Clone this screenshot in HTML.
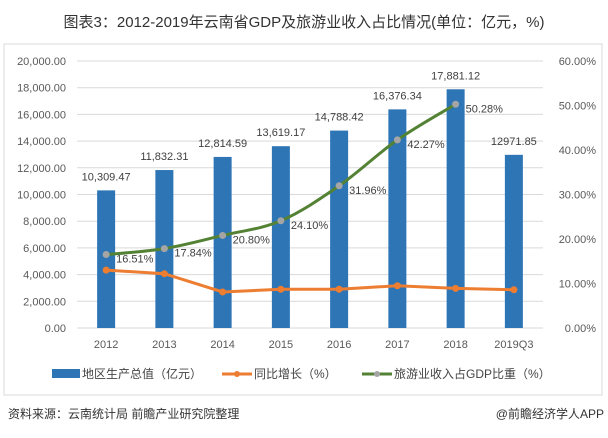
<!DOCTYPE html>
<html><head><meta charset="utf-8"><style>
body{margin:0;background:#fff;font-family:"Liberation Sans","Noto Sans CJK SC",sans-serif;}
#wrap{position:relative;width:608px;height:438px;overflow:hidden;background:#fff}
</style></head><body>
<div id="wrap">
<svg id="svg" width="608" height="438" xmlns="http://www.w3.org/2000/svg" style="position:absolute;left:0;top:0;font-family:'Liberation Sans','Noto Sans CJK SC',sans-serif">
<text x="304" y="27" text-anchor="middle" font-size="15" fill="#333">图表3：2012-2019年云南省GDP及旅游业收入占比情况(单位：亿元，%)</text>
<rect x="4" y="44" width="598" height="351" fill="none" stroke="#d9d9d9"/>
<g id="grid"></g><g id="bars"></g><g id="lines"></g><g id="labels"></g>
<g>
<rect x="52" y="369" width="28" height="9" fill="#2e75b6"/>
<text x="82" y="378" font-size="12" fill="#444">地区生产总值（亿元）</text>
<line x1="222" y1="374" x2="252" y2="374" stroke="#ed7d31" stroke-width="3"/>
<circle cx="237" cy="374" r="3" fill="#ed7d31"/>
<text x="254" y="378" font-size="12" fill="#444">同比增长（%）</text>
<line x1="362" y1="374" x2="392" y2="374" stroke="#548235" stroke-width="3"/>
<circle cx="377" cy="374" r="3" fill="#a5a5a5"/>
<text x="394" y="378" font-size="12" fill="#444">旅游业收入占GDP比重（%）</text>
</g>
<text x="8" y="418" font-size="12" fill="#333">资料来源：云南统计局 前瞻产业研究院整理</text>
<text x="604" y="418" font-size="12" fill="#333" text-anchor="end">@前瞻经济学人APP</text>
</svg>
</div>
<script>
const categories=["2012","2013","2014","2015","2016","2017","2018","2019Q3"];
const gdp=[10309.47,11832.31,12814.59,13619.17,14788.42,16376.34,17881.12,12971.85];
const growth=[13.0,12.2,8.1,8.7,8.7,9.5,8.9,8.6];
const share=[16.51,17.84,20.80,24.10,31.96,42.27,50.28];
const leftTicks=[0,2000,4000,6000,8000,10000,12000,14000,16000,18000,20000];
const rightTicks=[0,10,20,30,40,50,60];
const NS="http://www.w3.org/2000/svg";
const x0=77,x1=543,yTop=61,yBot=328;
const bw=(x1-x0)/categories.length;
const xc=i=>x0+(i+0.5)*bw;
const yL=v=>yBot-v/20000*(yBot-yTop);
const yR=v=>yBot-v/60*(yBot-yTop);
function mk(tag,attrs,parent,txt){const e=document.createElementNS(NS,tag);for(const k in attrs)e.setAttribute(k,attrs[k]);if(txt!==undefined)e.textContent=txt;document.getElementById(parent).appendChild(e);return e;}
const fmt=v=>v.toLocaleString('en-US',{minimumFractionDigits:2,maximumFractionDigits:2});
leftTicks.forEach(t=>{
 const l=mk('line',{x1:x0,x2:x1,y1:yL(t),y2:yL(t),stroke:'#d9d9d9'},'grid');
 
 
 const tx=mk('text',{x:66,y:yL(t)+4,'text-anchor':'end','font-size':11,fill:'#595959'},'grid',fmt(t));
 
 
});
rightTicks.forEach(t=>{
 const tx=mk('text',{x:596,y:yR(t)+4,'text-anchor':'end','font-size':11,fill:'#595959'},'grid',t.toFixed(2)+'%');
 
 
});
categories.forEach((c,i)=>{
 const tx=mk('text',{x:xc(i),y:348,'text-anchor':'middle','font-size':11,fill:'#595959'},'grid',c);
 
 
});
gdp.forEach((v,i)=>{
 const r=mk('rect',{x:xc(i)-9,y:yL(v),width:18,height:yBot-yL(v),fill:'#2e75b6'},'bars');
 
 
 const lab=i===7?v.toFixed(2):fmt(v);
 const t=mk('text',{x:xc(i),y:yL(v)-10,'text-anchor':'middle','font-size':11,fill:'#404040'},'labels',lab);
 
 
});
function smooth(pts){let d='M'+pts[0][0]+','+pts[0][1];for(let i=0;i<pts.length-1;i++){const p0=pts[i-1]||pts[i],p1=pts[i],p2=pts[i+1],p3=pts[i+2]||p2;const c1=[p1[0]+(p2[0]-p0[0])/6,p1[1]+(p2[1]-p0[1])/6],c2=[p2[0]-(p3[0]-p1[0])/6,p2[1]-(p3[1]-p1[1])/6];d+=' C'+c1+' '+c2+' '+p2;}return d;}
const gp=growth.map((v,i)=>[xc(i),yR(v)]);
const ol=mk('path',{d:'M'+gp.map(p=>p.join(',')).join(' L'),fill:'none',stroke:'#ed7d31','stroke-width':3},'lines');


gp.forEach(p=>{const c=mk('circle',{cx:p[0],cy:p[1],r:3.5,fill:'#ed7d31'},'lines');
 
 });
const sp=share.map((v,i)=>[xc(i),yR(v)]);
const gl=mk('path',{d:smooth(sp),fill:'none',stroke:'#548235','stroke-width':3},'lines');


sp.forEach((p,i)=>{const c=mk('circle',{cx:p[0],cy:p[1],r:3.5,fill:'#a5a5a5'},'lines');
 
 
 const t=mk('text',{x:p[0]+10,y:p[1]+8,'font-size':11,fill:'#404040'},'labels',share[i].toFixed(2)+'%');
 
 });
</script>
</body></html>
